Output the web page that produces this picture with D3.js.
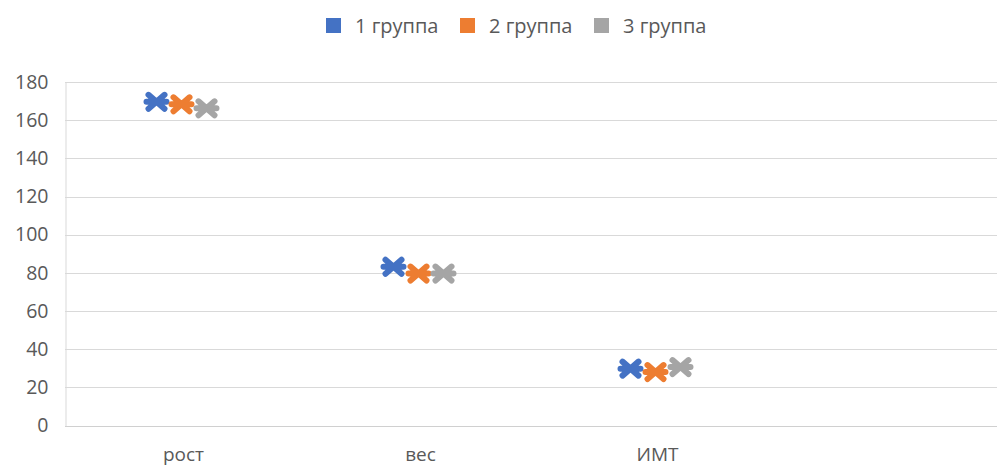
<!DOCTYPE html>
<html>
<head>
<meta charset="utf-8">
<script src="https://cdn.jsdelivr.net/npm/d3@7"></script>
<style>
  html, body { margin: 0; padding: 0; background: #fff; }
  svg { display: block; font-family: "Open Sans", sans-serif; }
</style>
</head>
<body>
<svg id="chart" width="997" height="467"></svg>
<script>
// Measurements per group
const categories = ["рост", "вес", "ИМТ"];
const seriesNames = ["1 группа", "2 группа", "3 группа"];
const group1 = [169.6, 83.2, 29.8];
const group2 = [168.3, 79.6, 28.0];
const group3 = [166.2, 79.6, 30.6];
const yTicks = [0, 20, 40, 60, 80, 100, 120, 140, 160, 180];

const colors = ["#4472C4", "#ED7D31", "#A5A5A5"];
const seriesValues = [group1, group2, group3];

const svg = d3.select("#chart");
const W = 997;
const plotLeft = 65, plotTop = 82, plotBottom = 425.5;
const slot = 237;
const fontSize = 19.5;

// the category axis keeps room for a fourth, empty slot on the right
const x = d3.scaleBand().domain([...categories, ""]).range([plotLeft, plotLeft + slot * 4]).padding(0);
const y = d3.scaleLinear().domain([0, 180]).range([plotBottom, plotTop]);

// horizontal gridlines
svg.append("g")
  .selectAll("line")
  .data(yTicks.filter(d => d > 0))
  .join("line")
  .attr("x1", plotLeft).attr("x2", W)
  .attr("y1", d => Math.round(y(d)) + 0.5).attr("y2", d => Math.round(y(d)) + 0.5)
  .attr("stroke", "#d9d9d9").attr("stroke-width", 1);

// value axis
const yAxis = d3.axisLeft(y).tickValues(yTicks).tickSize(0).tickPadding(17);
const yg = svg.append("g").attr("transform", `translate(${plotLeft + 0.5},0)`).call(yAxis);
yg.select(".domain").attr("stroke", "#d9d9d9");
yg.selectAll("text").attr("fill", "#595959").attr("font-size", fontSize).attr("font-family", "Open Sans, sans-serif");

// category axis
const xAxis = d3.axisBottom(x).tickValues(categories).tickSize(0).tickPadding(21);
const xg = svg.append("g").attr("transform", `translate(0,${Math.round(plotBottom) + 0.5})`).call(xAxis);
xg.select(".domain").remove();
xg.append("line").attr("x1", plotLeft).attr("x2", W).attr("stroke", "#d0d0d0");
xg.selectAll("text").attr("fill", "#595959").attr("font-size", 19).attr("font-family", "Open Sans, sans-serif");

// asterisk marker: horizontal bar crossed by an X
const markerPath = "M-10,0L10,0M-8,-7L8,7M-8,7L8,-7";
const offsets = [-27, -2, 23];

seriesValues.forEach((vals, si) => {
  svg.append("g")
    .selectAll("path")
    .data(vals.map((v, i) => ({ cat: categories[i], v })))
    .join("path")
    .attr("d", markerPath)
    .attr("transform", d => `translate(${x(d.cat) + x.bandwidth() / 2 + offsets[si]},${y(d.v)})`)
    .attr("fill", "none")
    .attr("stroke", colors[si])
    .attr("stroke-width", 6)
    .attr("stroke-linecap", "round");
});

// legend
const legend = svg.append("g").attr("transform", "translate(326,0)");
const item = legend.selectAll("g").data(seriesNames).join("g")
  .attr("transform", (d, i) => `translate(${i * 134},0)`);
item.append("rect").attr("x", 0).attr("y", 18).attr("width", 15).attr("height", 15)
  .attr("fill", (d, i) => colors[i]);
item.append("text").attr("x", 29).attr("y", 26).attr("dy", "0.35em")
  .attr("fill", "#595959").attr("font-size", 20).text(d => d);
</script>
</body>
</html>
